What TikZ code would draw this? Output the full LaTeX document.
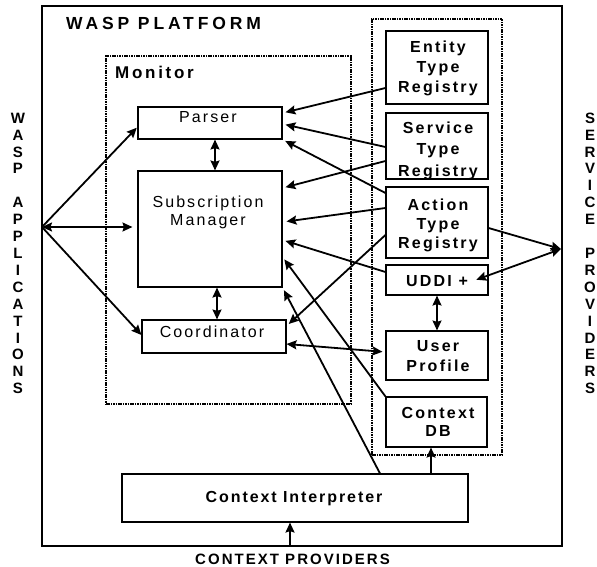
\documentclass[tikz,border=0pt]{standalone}
\usepackage{fontspec}
\setmainfont{Liberation Sans}
\newfontfamily\titlefont[LetterSpace=22]{Liberation Sans}
\newfontfamily\montitlefont[LetterSpace=16]{Liberation Sans}
\newfontfamily\boxfont[LetterSpace=14]{Liberation Sans}
\newfontfamily\regfont[LetterSpace=13]{Liberation Sans}
\newfontfamily\cifont[LetterSpace=12]{Liberation Sans}
\newfontfamily\cpfont[LetterSpace=13.5]{Liberation Sans}
\usetikzlibrary{arrows.meta,fit}

\begin{document}
\begin{tikzpicture}[x=1pt,y=-1pt,
  box/.style={draw, line width=1.1pt, inner sep=0pt},
  frame/.style={draw, line width=1.3pt, inner sep=0pt},
  dotbox/.style={draw, line width=2.6pt, dash pattern=on 1.6pt off 0.8pt, inner sep=0pt},
  tip/.tip={Stealth[length=10pt,width=9pt,inset=1.5pt]},
  conn/.style={line width=1.8pt, -tip},
  biconn/.style={line width=1.8pt, tip-tip},
  titletxt/.style={font=\titlefont\bfseries\fontsize{17.5}{20}\selectfont, inner sep=0pt, anchor=base west},
  montxt/.style={font=\montitlefont\bfseries\fontsize{17}{20}\selectfont, inner sep=0pt, anchor=base west},
  regtxt/.style={font=\regfont\fontsize{16}{19}\selectfont, inner sep=0pt, anchor=base},
  boldtxt/.style={font=\boxfont\bfseries\fontsize{16}{19}\selectfont, inner sep=0pt, anchor=base},
  citxt/.style={font=\cifont\bfseries\fontsize{16}{19}\selectfont, inner sep=0pt, anchor=base},
  cptxt/.style={font=\cpfont\bfseries\fontsize{15}{18}\selectfont, inner sep=0pt, anchor=base},
  sidetxt/.style={font=\bfseries\fontsize{15}{17}\selectfont, inner sep=0pt, anchor=base}
]
\useasboundingbox (0,0) rectangle (597,567);

% containers
\node[frame, fit={(42,6) (562,546)}] (platform) {};
\node[dotbox, fit={(106,56) (351,404)}] (monitor) {};
\node[dotbox, fit={(372,19) (502,455)}] (registries) {};

% monitor components
\node[box, fit={(138,107) (282,139)}] (parser) {};
\node[box, fit={(138,171) (282,287)}] (sub) {};
\node[box, fit={(142,320) (286,353)}] (coord) {};

% registries and stores
\node[box, fit={(386,31) (488,104)}] (etr) {};
\node[box, fit={(386,113) (488,179)}] (str) {};
\node[box, fit={(386,187) (488,258)}] (atr) {};
\node[box, fit={(386,265) (488,295)}] (uddi) {};
\node[box, fit={(386,331) (488,380)}] (up) {};
\node[box, fit={(386,397) (487,447)}] (cdb) {};
\node[box, fit={(122,474) (468,522)}] (ci) {};

% titles
\node[titletxt] (ttl) at (66,30) {WASP PLATFORM};
\node[montxt] (montitle) at (115,79) {Monitor};

% box labels
\node[regtxt] (parsertxt) at (208,123) {Parser};
\node[regtxt] (subtxta) at (208,207) {Subscription};
\node[regtxt] (subtxtb) at (208,225) {Manager};
\node[regtxt] (coordtxt) at (212,337) {Coordinator};

\node[boldtxt] (etra) at (438,52.5) {Entity};
\node[boldtxt] (etrb) at (438,72.5) {Type};
\node[boldtxt] (etrc) at (438,92.5) {Registry};
\node[boldtxt] (stra) at (438,134) {Service};
\node[boldtxt] (strb) at (438,155) {Type};
\node[boldtxt] (strc) at (438,176.5) {Registry};
\node[boldtxt] (atra) at (438,210) {Action};
\node[boldtxt] (atrb) at (438,229.5) {Type};
\node[boldtxt] (atrc) at (438,248.5) {Registry};
\node[boldtxt] (uddia) at (437,286.7) {UDDI +};
\node[boldtxt] (upa) at (438,351.7) {User};
\node[boldtxt] (upb) at (438,371.7) {Profile};
\node[boldtxt] (cdba) at (438,418.3) {Context};
\node[boldtxt] (cdbb) at (438,436.7) {DB};
\node[citxt] (citxt) at (294,502.7) {Context Interpreter};
\node[cptxt] (cptxt) at (292.5,564.5) {CONTEXT PROVIDERS};

% side labels
\foreach \ch [count=\i] in {W,A,S,P}
  \node[sidetxt] (wasp\i) at (18,{123.3+(\i-1)*16.9}) {\ch};
\foreach \ch [count=\i] in {A,P,P,L,I,C,A,T,I,O,N,S}
  \node[sidetxt] (apps\i) at (18,{123.3+(\i+4)*16.9}) {\ch};
\foreach \ch [count=\i] in {S,E,R,V,I,C,E}
  \node[sidetxt] (serv\i) at (590,{123.3+(\i-1)*16.9}) {\ch};
\foreach \ch [count=\i] in {P,R,O,V,I,D,E,R,S}
  \node[sidetxt] (prov\i) at (590,{123.3+(\i+7)*16.9}) {\ch};

% connector end points on the platform frame
\coordinate (wa) at (42,227);
\coordinate (sp) at (561,249);
\coordinate (cp) at (290,546);

% registries to monitor
\draw[conn, shorten >=3pt] (etr.west |- 0,88) -- (parser.east |- 0,113);
\draw[conn, shorten >=3pt] (str.west |- 0,147) -- (parser.east |- 0,124);
\draw[conn, shorten >=3pt] (str.west |- 0,161) -- (sub.east |- 0,188);
\draw[conn, shorten >=3pt] (atr.west |- 0,193) -- (parser.south east);
\draw[conn, shorten >=4pt] (atr.west |- 0,208) -- (sub.east |- 0,222);
\draw[conn, shorten >=3pt] (uddi.west |- 0,272) -- (sub.east |- 0,240);
\draw[conn, shorten >=3pt] (atr.west |- 0,235) -- (coord.east |- 0,326);
\draw[biconn, shorten >=3pt] (coord.east |- 0,344) -- (up.west |- 0,352);
\draw[conn, shorten >=3pt] (cdb.north west) -- (sub.east |- 0,257);
\draw[conn, shorten >=3pt] (ci.north -| 380,0) -- (sub.south east);
\draw[conn] (ci.north -| 431,0) -- (cdb.south -| 431,0);
\draw[conn] (cp) -- (ci.south -| cp);

% inside the monitor and registries
\draw[biconn] (parser.south -| 215,0) -- (sub.north -| 215,0);
\draw[biconn] (sub.south -| 217,0) -- (coord.north -| 217,0);
\draw[biconn] (uddi.south -| 437,0) -- (up.north -| 437,0);

% service providers
\draw[conn] (atr.east |- 0,228) -- (sp);
\draw[biconn, shorten >=-13pt] (sp) -- (uddi.east |- 0,275.3);

% WASP applications
\draw[conn, shorten >=1pt] (wa) -- (parser.west |- 0,127);
\draw[biconn, shorten >=5pt] (wa) -- (sub.west |- wa);
\draw[conn] (wa) -- (coord.west |- 0,335);
\end{tikzpicture}
\end{document}
